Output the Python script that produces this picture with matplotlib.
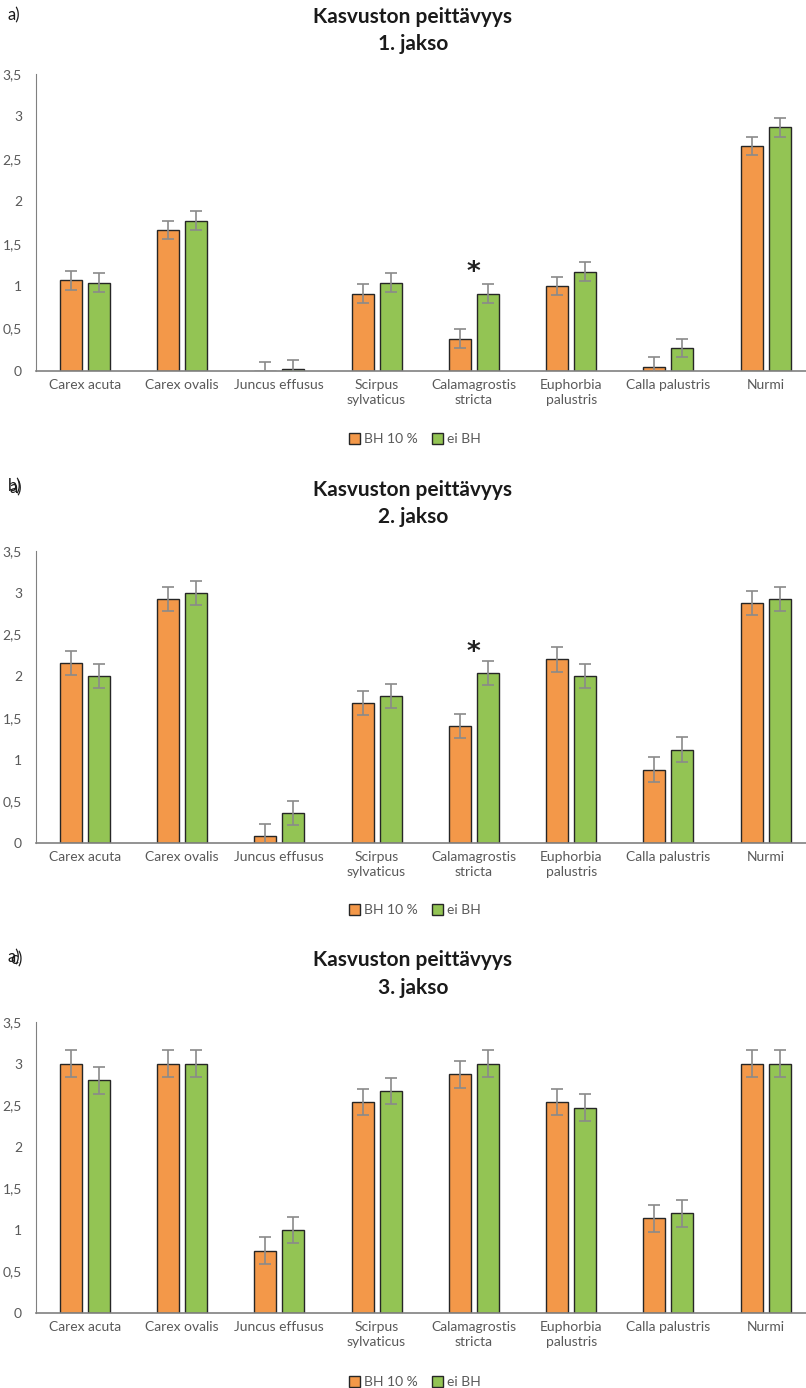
import matplotlib.pyplot as plt
from matplotlib.ticker import FuncFormatter
from matplotlib.patches import Patch
import numpy as np

plt.rcParams['font.family'] = ['Lato', 'DejaVu Sans']

categories = ["Carex acuta", "Carex ovalis", "Juncus effusus", "Scirpus\nsylvaticus",
              "Calamagrostis\nstricta", "Euphorbia\npalustris", "Calla palustris", "Nurmi"]
series_names = ["BH 10 %", "ei BH"]

# jakso 1
bh_1 = [1.07, 1.66, 0.0, 0.91, 0.38, 1.00, 0.05, 2.65]
ei_1 = [1.04, 1.77, 0.02, 1.04, 0.91, 1.17, 0.27, 2.87]
err_1 = 0.11
# jakso 2
bh_2 = [2.16, 2.92, 0.08, 1.68, 1.40, 2.20, 0.88, 2.88]
ei_2 = [2.00, 3.00, 0.36, 1.76, 2.04, 2.00, 1.12, 2.92]
err_2 = 0.145
# jakso 3
bh_3 = [3.00, 3.00, 0.75, 2.54, 2.87, 2.54, 1.14, 3.00]
ei_3 = [2.80, 3.00, 1.00, 2.67, 3.00, 2.47, 1.20, 3.00]
err_3 = 0.16

titles = ["1. jakso", "2. jakso", "3. jakso"]
panel_labels = [["a)"], ["b)", "a)"], ["a)", "c)"]]
star_y = [1.27, 2.40, None]   # asterisk above Calamagrostis
star_idx = 4

ORANGE = "#F39849"
GREEN = "#93C454"
EDGE = "#262626"
GRAY = "#595959"

W, H = 806, 1388
fig = plt.figure(figsize=(W / 100, H / 100), dpi=100)

panels = [(bh_1, ei_1, err_1), (bh_2, ei_2, err_2), (bh_3, ei_3, err_3)]
ax_boxes = [(74, 371), (551, 843), (1022, 1313)]
title_y = [(17, 44), (490, 517), (960, 988)]
label_y = [15, 486, 957]
legend_y = [439, 910, 1382]

x = np.arange(len(categories))
bw = 0.226
off = 0.144
ax_w = 8 * 97.3  # plot area runs a bit past the right edge of the image

for i, (bh, ei, err) in enumerate(panels):
    top, bottom = ax_boxes[i]
    ax = fig.add_axes([36 / W, 1 - bottom / H, ax_w / W, (bottom - top) / H])
    ax.bar(x - off, bh, bw, color=ORANGE, edgecolor=EDGE, linewidth=1, zorder=2)
    ax.bar(x + off, ei, bw, color=GREEN, edgecolor=EDGE, linewidth=1, zorder=2)
    ax.errorbar(x - off, bh, yerr=err, fmt='none', ecolor="#8a8a8a", elinewidth=1.2,
                capsize=4, capthick=1.2, zorder=3)
    ax.errorbar(x + off, ei, yerr=err, fmt='none', ecolor="#8a8a8a", elinewidth=1.2,
                capsize=4, capthick=1.2, zorder=3)
    if star_y[i] is not None:
        ax.text(star_idx, star_y[i] - 0.12, "*", ha='center', va='center', fontsize=19,
                fontweight='bold', family='DejaVu Sans', color="#222222")

    ax.set_xlim(-0.5, len(categories) - 0.5)
    ax.set_ylim(0, 3.5)
    ax.set_yticks(np.arange(0, 3.51, 0.5))
    ax.yaxis.set_major_formatter(FuncFormatter(lambda v, p: ("%g" % v).replace(".", ",")))
    ax.set_xticks(x)
    ax.set_xticklabels(categories, linespacing=1.25)
    ax.tick_params(axis='y', length=0, pad=10, labelsize=10, labelcolor=GRAY)
    ax.tick_params(axis='x', length=0, pad=6, labelsize=10, labelcolor=GRAY)
    for s in ["top", "right"]:
        ax.spines[s].set_visible(False)
    ax.spines["left"].set_color("#808080")
    ax.spines["bottom"].set_color("#808080")
    ax.spines["bottom"].set_linewidth(1.2)

    fig.text(412 / W, 1 - title_y[i][0] / H, "Kasvuston peittävyys", ha='center',
             va='center', fontsize=15, fontweight='bold', color="#1a1a1a")
    fig.text(413 / W, 1 - title_y[i][1] / H, titles[i], ha='center', va='center',
             fontsize=15, fontweight='bold', color="#1a1a1a")
    for j, lab in enumerate(panel_labels[i]):
        fig.text((8 + 2 * j) / W, 1 - (label_y[i] + 2 * j) / H, lab, ha='left',
                 va='center', fontsize=12, color="#1a1a1a")

    handles = [Patch(facecolor=ORANGE, edgecolor=EDGE), Patch(facecolor=GREEN, edgecolor=EDGE)]
    fig.legend(handles, series_names, loc='center', bbox_to_anchor=(415 / W, 1 - legend_y[i] / H),
               ncol=2, frameon=False, fontsize=10, labelcolor=GRAY, handlelength=0.8,
               handleheight=0.8, handletextpad=0.3, columnspacing=1.0)

fig.savefig("out.png", dpi=100)
